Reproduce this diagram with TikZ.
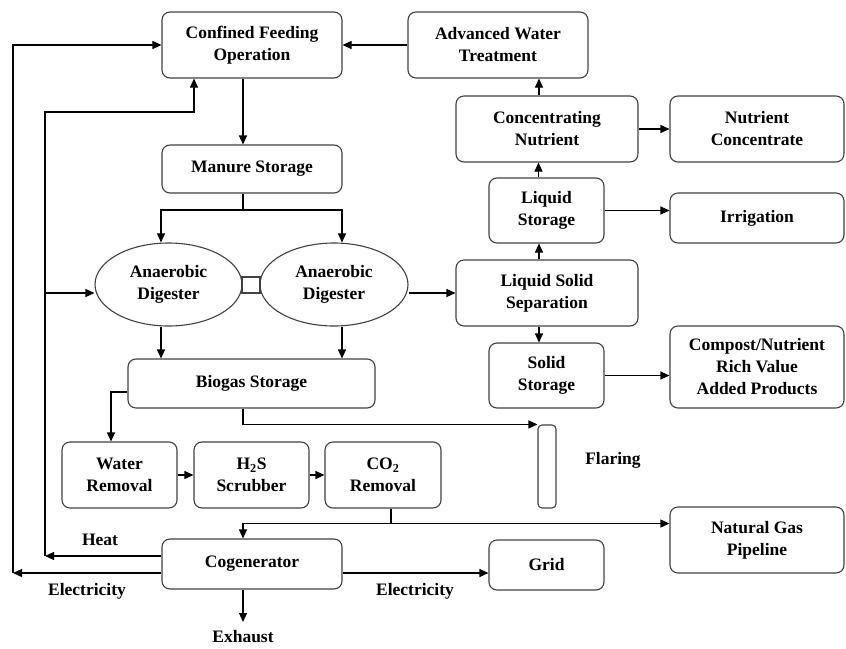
\documentclass[tikz,border=0pt]{standalone}
\usepackage{fontspec}
\setmainfont{Liberation Serif}
\usetikzlibrary{arrows.meta,shapes.geometric}
\begin{document}
\begin{tikzpicture}[x=1pt,y=-1pt,
  txt/.style={font=\fontsize{17.5}{22}\selectfont\bfseries,align=center,inner sep=0pt},
  box/.style={txt,draw=black!75,line width=1.1pt,rounded corners=8pt},
  ell/.style={txt,draw=black!75,line width=1.1pt,ellipse},
  arr/.style={-{Triangle[length=9pt,width=8pt]},line width=1.1pt},
  ln/.style={line width=1.1pt}]
\useasboundingbox (0,0) rectangle (846,648);

% nodes
\node[box,minimum width=180pt,minimum height=66pt] (cfo) at (252,45) {Confined Feeding\\Operation};
\node[box,minimum width=180pt,minimum height=66pt] (awt) at (498,45) {Advanced Water\\Treatment};
\node[box,minimum width=180pt,minimum height=48pt] (ms) at (252,169) {Manure Storage};
\node[ell,minimum width=147pt,minimum height=83pt] (ld) at (168.5,284.5) {Anaerobic\\Digester};
\node[ell,minimum width=148pt,minimum height=83pt] (rd) at (334,284.5) {Anaerobic\\Digester};
\node[draw=black!75,line width=1.1pt,minimum width=18pt,minimum height=16pt,inner sep=0pt] (sq) at (251,285) {};
\node[box,minimum width=247pt,minimum height=49pt] (bs) at (251.5,383.5) {Biogas Storage};
\node[box,minimum width=115pt,minimum height=66pt] (wr) at (119.5,475) {Water\\Removal};
\node[box,minimum width=115pt,minimum height=66pt] (hs) at (251.5,475) {H\textsubscript{2}S\\Scrubber};
\node[box,minimum width=116pt,minimum height=66pt] (co) at (383,475) {CO\textsubscript{2}\\Removal};
\node[draw=black!75,line width=1.1pt,rounded corners=4pt,minimum width=18pt,minimum height=83pt,inner sep=0pt] (fl) at (547,466.5) {};
\node[txt] (flab) at (613,460) {Flaring};
\node[box,minimum width=180pt,minimum height=50pt] (cog) at (252,564) {Cogenerator};
\node[box,minimum width=115pt,minimum height=50pt] (grid) at (546.5,565) {Grid};
\node[box,minimum width=174pt,minimum height=66pt] (ngp) at (757,540) {Natural Gas\\Pipeline};
\node[box,minimum width=182pt,minimum height=66pt] (lss) at (547,293) {Liquid Solid\\Separation};
\node[box,minimum width=115pt,minimum height=65pt] (lst) at (546.5,210.5) {Liquid\\Storage};
\node[box,minimum width=182pt,minimum height=66pt] (cn) at (547,129) {Concentrating\\Nutrient};
\node[box,minimum width=174pt,minimum height=66pt] (nc) at (757,129) {Nutrient\\Concentrate};
\node[box,minimum width=174pt,minimum height=50pt] (irr) at (757,218) {Irrigation};
\node[box,minimum width=115pt,minimum height=65pt] (ss) at (546.5,375.5) {Solid\\Storage};
\node[box,minimum width=174pt,minimum height=82pt] (cp) at (757,367) {Compost/Nutrient\\Rich Value\\Added Products};

\node[txt] (heat) at (100,540) {Heat};
\node[txt] (el1) at (87,591) {Electricity};
\node[txt] (el2) at (415,591) {Electricity};
\node[txt] (exh) at (243,637) {Exhaust};

% coordinates
\coordinate (oL) at (13,573);
\coordinate (iL) at (45,556);
\coordinate (iT) at (45,112);
\coordinate (iB) at (45,293);
\coordinate (split) at (243,210);
\coordinate (exEnd) at (243,622);

% connectors
\draw[arr] (awt.west) -- (cfo.east);
\draw[arr] ([xshift=-9pt]cfo.south) -- ([xshift=-9pt]ms.north);
\draw[ln] ([xshift=-9pt]ms.south) -- (split);
\draw[arr] (split) -| ([xshift=-7.5pt]ld.north);
\draw[arr] (split) -| ([xshift=8pt]rd.north);
\draw[arr] ([xshift=-7.5pt]ld.south) -- ([xshift=-7.5pt]ld.south |- bs.north);
\draw[arr] ([xshift=8pt]rd.south) -- ([xshift=8pt]rd.south |- bs.north);
\draw[arr] (rd.east |- lss.west) -- (lss.west);
\draw[arr] ([yshift=-8.5pt]bs.west) -| ([xshift=-8.5pt]wr.north);
\draw[arr] ([xshift=-8.5pt]bs.south) |- (fl.north west);
\draw[arr] (wr.east) -- (hs.west);
\draw[arr] (hs.east) -- (co.west);
\draw[ln] ([xshift=8pt]co.south) -- ++(0,15) coordinate (j);
\draw[arr] (j) -| ([xshift=-9pt]cog.north);
\draw[arr] (j) -- (j -| ngp.west);
\draw[arr] ([yshift=-9pt]cog.east) -- ([yshift=-9pt]cog.east -| grid.west);
\draw[arr] ([xshift=-9pt]cog.south) -- (exEnd);
% feedback loops
\draw[arr] ([yshift=-9pt]cog.west) -- (oL);
\draw[arr] (oL) |- (cfo.west);
\draw[arr] ([yshift=8pt]cog.west) -- (iL);
\draw[arr] (iL) -- (iT) -| ([xshift=-58pt]cfo.south);
\draw[arr] (iB) -- (iB -| ld.west);
% right column
\draw[arr] ([xshift=-8pt]lss.north) -- ([xshift=-8pt]lss.north |- lst.south);
\draw[arr] ([xshift=-8pt]lst.north) -- ([xshift=-8pt]lst.north |- cn.south);
\draw[arr] ([xshift=-8pt]cn.north) -- ([xshift=-8pt]cn.north |- awt.south);
\draw[arr] ([xshift=-8pt]lss.south) -- ([xshift=-8pt]lss.south |- ss.north);
\draw[arr] (cn.east) -- (nc.west);
\draw[arr] (lst.east) -- (lst.east -| irr.west);
\draw[arr] (ss.east) -- (ss.east -| cp.west);
\end{tikzpicture}
\end{document}
